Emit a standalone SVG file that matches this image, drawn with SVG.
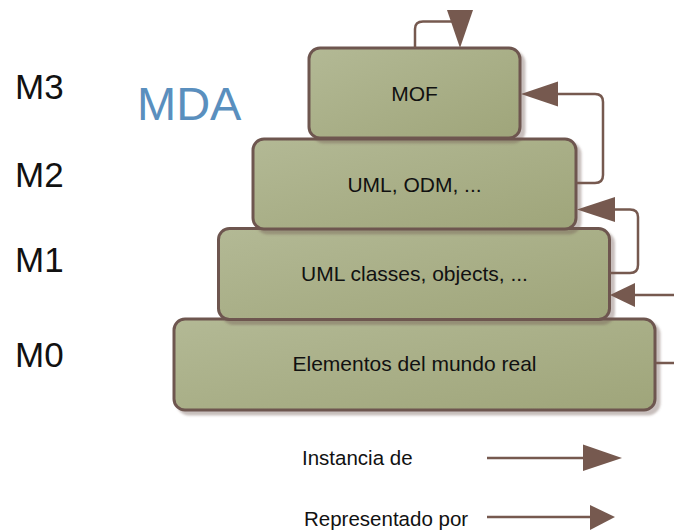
<svg xmlns="http://www.w3.org/2000/svg" width="674" height="532" viewBox="0 0 674 532">
<defs>
<linearGradient id="g" x1="0" y1="0" x2="1" y2="1">
<stop offset="0" stop-color="#b3b995"/>
<stop offset="1" stop-color="#9fa57a"/>
</linearGradient>
<filter id="sh" x="-5%" y="-5%" width="115%" height="125%">
<feGaussianBlur in="SourceAlpha" stdDeviation="1.2"/>
<feOffset dx="4" dy="4" result="b"/>
<feFlood flood-color="#6e5750" flood-opacity="0.38"/>
<feComposite in2="b" operator="in"/>
<feMerge><feMergeNode/><feMergeNode in="SourceGraphic"/></feMerge>
</filter>
<style>
.box{fill:url(#g);stroke:#6e5750;stroke-width:3;filter:url(#sh)}
.t{font-family:"Liberation Sans",Arial,sans-serif;font-size:21px;fill:#111;text-anchor:middle}
.lg{font-family:"Liberation Sans",Arial,sans-serif;font-size:20.5px;fill:#111}
.m{font-family:"Liberation Sans",Arial,sans-serif;font-size:35px;fill:#111}
.c{fill:none;stroke:#76594f;stroke-width:2.5}
.h{fill:#76594f}
</style>
</defs>
<text class="m" x="15" y="99">M3</text>
<text class="m" x="15" y="187">M2</text>
<text class="m" x="15" y="272">M1</text>
<text class="m" x="15" y="367">M0</text>
<text x="137" y="120" font-family="Liberation Sans, Arial, sans-serif" font-size="47" fill="#5a8fbe">MDA</text>
<g id="m0">
<rect class="box" x="174" y="319" width="481" height="91" rx="11"/>
<text class="t" x="414.5" y="371">Elementos del mundo real</text>
</g>
<g id="m1">
<rect class="box" x="218.5" y="228.5" width="391" height="91" rx="11"/>
<text class="t" x="414.5" y="281">UML classes, objects, ...</text>
</g>
<g id="m2">
<rect class="box" x="253" y="139" width="323" height="90" rx="11"/>
<text class="t" x="414.5" y="192">UML, ODM, ...</text>
</g>
<g id="m3">
<rect class="box" x="309" y="48" width="211" height="90" rx="11"/>
<text class="t" x="414.5" y="101">MOF</text>
</g>
<g id="connectors">
<path class="c" d="M415,48 V29 Q415,21.5 423,21.5 H460"/>
<polygon class="h" points="447,10 473,10 460,48"/>
<path class="c" d="M577,183 H595 Q603,183 603,175 V102 Q603,94 595,94 H555"/>
<polygon class="h" points="558,81.5 558,106.5 521,94"/>
<path class="c" d="M610,273 H630 Q638,273 638,265 V217 Q638,209.5 630,209.5 H612"/>
<polygon class="h" points="615,197 615,222 577,209.5"/>
<path class="c" d="M674,295 H633"/>
<polygon class="h" points="635,283 635,307 610,295"/>
<path class="c" d="M656,363 H674"/>
</g>
<g id="legend">
<text class="lg" x="302" y="465">Instancia de</text>
<path class="c" d="M487,458 H586"/>
<polygon class="h" points="583,444.5 583,471 622,458"/>
<text class="lg" x="304" y="526">Representado por</text>
<path class="c" d="M487,517 H592"/>
<polygon class="h" points="590,505 590,530 615,517"/>
</g>
</svg>
